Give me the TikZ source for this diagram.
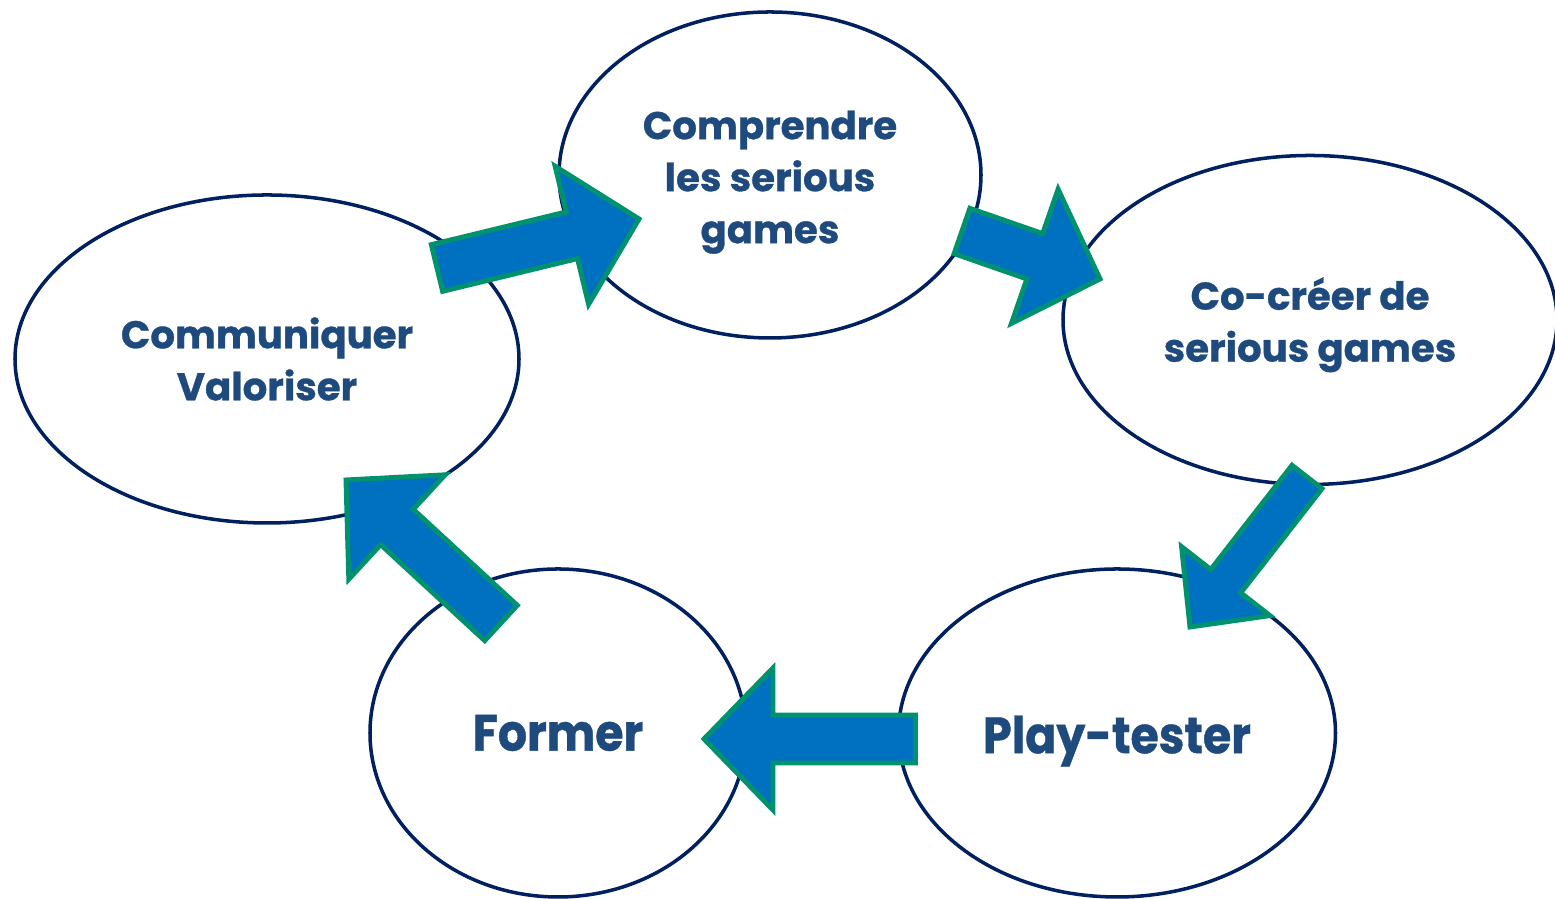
\documentclass[tikz,border=0pt]{standalone}
\usepackage{fontspec}
\setmainfont{Poppins}[BoldFeatures={FakeBold=0.8}]
\usetikzlibrary{shapes.geometric,calc}
\definecolor{ringblue}{HTML}{002060}
\definecolor{textblue}{HTML}{1F4A7D}
\definecolor{arrowfill}{HTML}{0070C0}
\definecolor{arrowedge}{HTML}{00916E}

\begin{document}
\begin{tikzpicture}[line width=1pt,
    main/.style = {draw=ringblue, ellipse, inner sep=0pt, align=center, text=textblue,
                   font=\bfseries\fontsize{11}{14.8}\selectfont},
    big/.style = {font=\bfseries\fontsize{14.5}{17}\selectfont\addfontfeature{FakeStretch=0.9}},
    blockshaft/.store in=\shaftwd, blockhead/.store in=\headwd, blocklen/.store in=\headlen,
    flow/.style = {fill=arrowfill, draw=arrowedge, line width=1.4pt, line join=miter,
                   blockshaft=0.24cm, blockhead=0.71cm, blocklen=0.69cm,
                   to path={let \p1=($(\tikztotarget)-(\tikztostart)$),
                                \n1={atan2(\y1,\x1)}, \n2={veclen(\x1,\y1)-\headlen} in
                     ($(\tikztostart)+(\n1+90:\shaftwd)$)
                     -- ($(\tikztostart)+(\n1:\n2)+(\n1+90:\shaftwd)$)
                     -- ($(\tikztostart)+(\n1:\n2)+(\n1+90:\headwd)$)
                     -- (\tikztotarget)
                     -- ($(\tikztostart)+(\n1:\n2)+(\n1-90:\headwd)$)
                     -- ($(\tikztostart)+(\n1:\n2)+(\n1-90:\shaftwd)$)
                     -- ($(\tikztostart)+(\n1-90:\shaftwd)$) -- cycle}}]
        \useasboundingbox (0,0) rectangle (15.55,8.99);

        % Nodes (a strut on the first line pushes the text a bit lower)
        \node[main, minimum width=4.22cm, minimum height=3.26cm] (compr) at (7.70,7.24)
            {\rule{0pt}{4.3mm}Comprendre\\les serious\\games};
        \node[main, minimum width=4.94cm, minimum height=3.29cm] (cocreer) at (13.10,5.79)
            {\rule{0pt}{4.2mm}Co-créer de\\serious games};
        \node[main, big, minimum width=4.37cm, minimum height=3.28cm] (play) at (11.17,1.66)
            {\rule{0pt}{5.4mm}Play-tester};
        \node[main, big, minimum width=3.76cm, minimum height=3.28cm] (former) at (5.58,1.66)
            {Former};
        \node[main, minimum width=5.04cm, minimum height=3.28cm] (comm) at (2.67,5.40)
            {Communiquer\\Valoriser};

        % Arrow ends
        \coordinate (t1) at (4.37,6.31);  \coordinate (h1) at (6.39,6.80);
        \coordinate (t2) at (9.62,6.68);  \coordinate (h2) at (11.00,6.20);
        \coordinate (t3) at (13.07,4.22); \coordinate (h3) at (11.90,2.72);
        \coordinate (t4) at (9.155,1.60); \coordinate (h4) at (7.04,1.60);
        \coordinate (t5) at (5.01,2.76);  \coordinate (h5) at (3.46,4.19);

        % Connections
        \draw[flow] (t1) to (h1);
        \draw[flow] (t2) to (h2);
        \draw[flow, blockshaft=0.19cm, blockhead=0.56cm, blocklen=0.58cm] (t3) to (h3); % thinner one
        \draw[flow] (t4) to (h4);
        \draw[flow] (t5) to (h5);
      \end{tikzpicture}
\end{document}
